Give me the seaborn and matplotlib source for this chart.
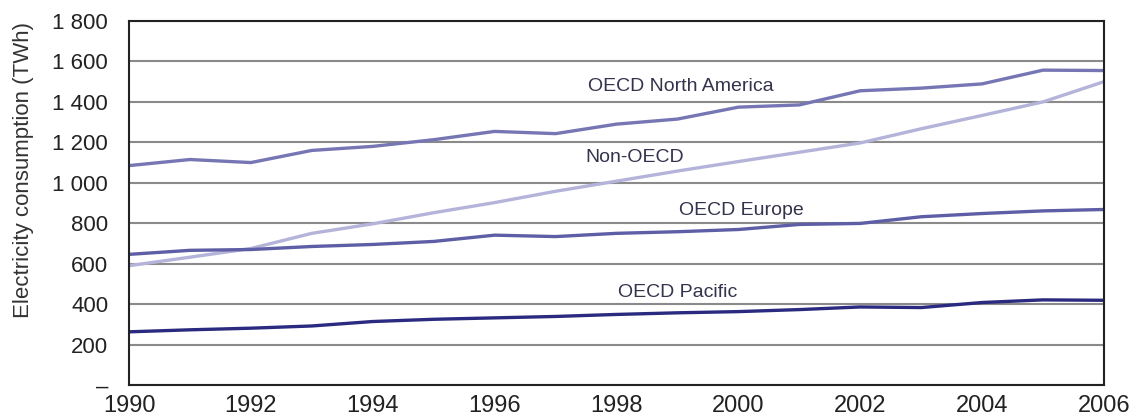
import numpy as np
import pandas as pd
import matplotlib
matplotlib.use("Agg")
import matplotlib.pyplot as plt
import seaborn as sns
from matplotlib.ticker import FuncFormatter, MultipleLocator

years = list(range(1990, 2007))

north_america = [1085, 1115, 1100, 1160, 1180, 1213, 1254, 1243, 1290, 1315,
                 1374, 1385, 1455, 1468, 1489, 1557, 1555]
non_oecd = [590, 632, 675, 750, 797, 852, 902, 958, 1008, 1058,
            1105, 1151, 1197, 1267, 1333, 1400, 1500]
europe = [646, 666, 670, 685, 695, 710, 741, 734, 750, 758,
          769, 794, 799, 832, 848, 861, 868]
pacific = [263, 273, 281, 292, 314, 325, 332, 339, 349, 357,
           363, 373, 386, 383, 408, 421, 419]

series_names = ["OECD North America", "Non-OECD", "OECD Europe", "OECD Pacific"]
series_colors = ["#7676b4", "#b4b4da", "#5e5ea6", "#2a2a80"]

# label anchors (year, value) for the in-plot names
label_pos = {
    "OECD North America": (1999.05, 1475),
    "Non-OECD": (1998.3, 1125),
    "OECD Europe": (2000.05, 865),
    "OECD Pacific": (1999.0, 458),
}

df = pd.DataFrame({
    "year": years * 4,
    "value": north_america + non_oecd + europe + pacific,
    "region": sum([[n] * len(years) for n in series_names], []),
})

sns.set_style("white")
plt.rcParams['font.family'] = ['Liberation Sans', 'DejaVu Sans']

fig, ax = plt.subplots(figsize=(11.31, 4.19), dpi=100)
fig.subplots_adjust(left=0.1141, right=0.9761, top=0.9499, bottom=0.0811)

ax.yaxis.grid(True, color="#8a8a8a", linewidth=1.5)
ax.set_axisbelow(True)

sns.lineplot(data=df, x="year", y="value", hue="region", hue_order=series_names,
             palette=series_colors, linewidth=2.4, legend=False, ax=ax)

for name in series_names:
    x, y = label_pos[name]
    ax.text(x, y, name, ha="center", va="center", fontsize=14, color="#33334d")

ax.set_xlim(1990, 2006)
ax.set_ylim(0, 1800)
ax.yaxis.set_major_locator(MultipleLocator(200))
ax.xaxis.set_major_locator(MultipleLocator(2))
ax.xaxis.set_minor_locator(MultipleLocator(1))


def thousands(v, pos):
    if v == 0:
        return "–"
    return f"{int(v):,}".replace(",", " ")


ax.yaxis.set_major_formatter(FuncFormatter(thousands))
ax.tick_params(axis="y", length=0, labelsize=16, pad=15, labelcolor="#222222")
ax.tick_params(axis="x", which="major", direction="out", length=7.2, width=1.4,
               color="#222222", labelsize=17, pad=0, labelcolor="#222222")
ax.tick_params(axis="x", which="minor", direction="out", length=7.2, width=1.4,
               color="#222222")

for side in ["left", "bottom", "top", "right"]:
    ax.spines[side].set_visible(True)
    ax.spines[side].set_color("#222222")
    ax.spines[side].set_linewidth(1.5)

ax.set_xlabel("")
ax.set_ylabel("Electricity consumption (TWh)", fontsize=16, color="#333333")
ax.yaxis.set_label_coords(-0.098, 0.592)

fig.savefig("out.png", dpi=100)
